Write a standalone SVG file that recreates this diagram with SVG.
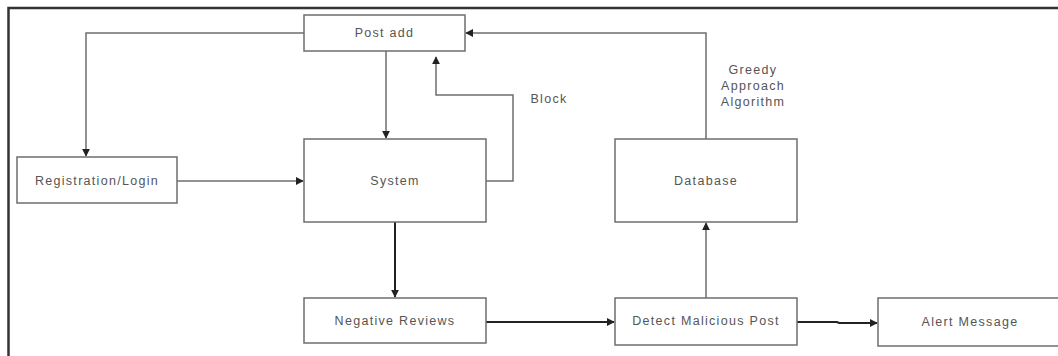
<svg xmlns="http://www.w3.org/2000/svg" width="1058" height="356" viewBox="0 0 1058 356">
<style>
.box{fill:#fff;stroke:#6e6e6e;stroke-width:1.5}
.lbl{font-family:"Liberation Sans",Arial,sans-serif;font-size:12.5px;fill:#555;letter-spacing:1.3px;text-anchor:middle;dominant-baseline:central}
.edge{fill:none;stroke:#6e6e6e;stroke-width:1.5}
.dark{fill:none;stroke:#222;stroke-width:2}
.frame{fill:none;stroke:#333;stroke-width:2.5}
</style>
<defs>
<marker id="ah" viewBox="0 0 10 10" refX="9" refY="5" markerWidth="8" markerHeight="8" markerUnits="userSpaceOnUse" orient="auto">
<path d="M0,0 L10,5 L0,10 z" fill="#222"/>
</marker>
</defs>
<rect width="1058" height="356" fill="#fff"/>
<path class="frame" d="M8.5,356 L8.5,8 L1058,8"/>
<g id="connectors">
<path class="edge" d="M304,33 L86,33 L86,156" marker-end="url(#ah)"/>
<path class="edge" d="M386,51 L386,138" marker-end="url(#ah)"/>
<path class="edge" d="M177,181 L303,181" marker-end="url(#ah)"/>
<path class="edge" d="M486,181 L513,181 L513,95 L436,95 L436,57" marker-end="url(#ah)"/>
<path class="edge" d="M706,139 L706,33 L466,33" marker-end="url(#ah)"/>
<path class="dark" d="M395,222 L395,297" marker-end="url(#ah)"/>
<path class="dark" d="M486,322 L614,322" marker-end="url(#ah)"/>
<path class="edge" d="M706,298 L706,223" marker-end="url(#ah)"/>
<path class="dark" d="M797,322 L837,322 L839,323 L877,323" marker-end="url(#ah)"/>
</g>
<g id="post-add"><rect class="box" x="304" y="15" width="161" height="36"/><text class="lbl" x="384.5" y="33">Post add</text></g>
<g id="registration"><rect class="box" x="17" y="157" width="160" height="46"/><text class="lbl" x="97" y="181">Registration/Login</text></g>
<g id="system"><rect class="box" x="304" y="139" width="182" height="83"/><text class="lbl" x="395" y="181">System</text></g>
<g id="database"><rect class="box" x="615" y="139" width="182" height="83"/><text class="lbl" x="706" y="181">Database</text></g>
<g id="negative-reviews"><rect class="box" x="304" y="298" width="182" height="45"/><text class="lbl" x="395" y="321">Negative Reviews</text></g>
<g id="detect"><rect class="box" x="615" y="298" width="182" height="47"/><text class="lbl" x="706" y="321">Detect Malicious Post</text></g>
<g id="alert"><rect class="box" x="878" y="298" width="184" height="48"/><text class="lbl" x="970" y="322">Alert Message</text></g>
<g id="labels">
<text class="lbl" x="549" y="99">Block</text>
<text class="lbl" x="753" y="70">Greedy</text>
<text class="lbl" x="753" y="86">Approach</text>
<text class="lbl" x="753" y="102">Algorithm</text>
</g>
</svg>
